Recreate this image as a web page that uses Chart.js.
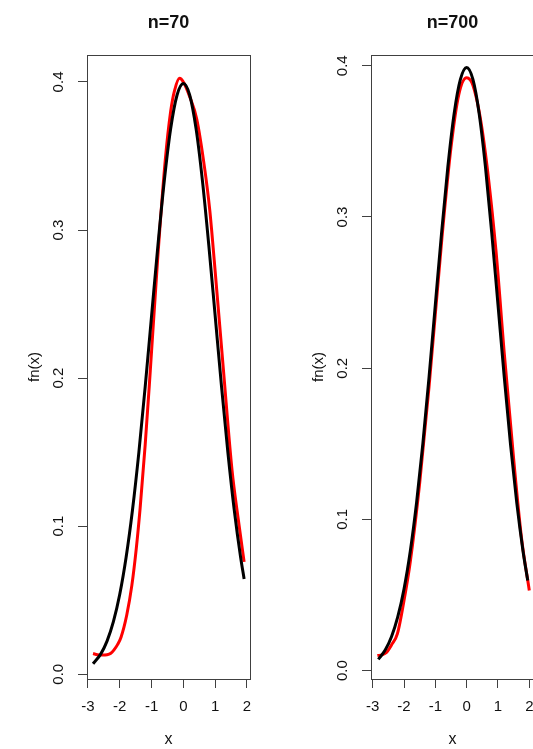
<!DOCTYPE html>
<html>
<head>
<meta charset="utf-8">
<script src="https://cdn.jsdelivr.net/npm/chart.js@4"></script>
<style>
  html, body { margin: 0; padding: 0; background: #fff; overflow: hidden; width: 533px; height: 749px; }
  canvas { position: absolute; top: 0; }
  #left { left: 0; }
  #right { left: 284px; }
</style>
</head>
<body>
<canvas id="left" width="266" height="749"></canvas>
<canvas id="right" width="250" height="749"></canvas>
<script>
// n=70 panel
const blackX70 = [-2.84, -2.6, -2.4, -2.2, -2.0, -1.8, -1.6, -1.4, -1.2, -1.0, -0.8, -0.6, -0.4, -0.2, 0.0, 0.2, 0.4, 0.6, 0.8, 1.0, 1.2, 1.4, 1.6, 1.8, 1.91];
const blackY70 = [0.0071, 0.0136, 0.0224, 0.0355, 0.0540, 0.0790, 0.1109, 0.1497, 0.1942, 0.2420, 0.2897, 0.3332, 0.3683, 0.3910, 0.3989, 0.3910, 0.3683, 0.3332, 0.2897, 0.2420, 0.1942, 0.1497, 0.1109, 0.0790, 0.0644];
const redX70 = [-2.84, -2.7, -2.55, -2.4, -2.28, -2.18, -2.07, -1.96, -1.78, -1.62, -1.48, -1.36, -1.2, -1.04, -0.81, -0.57, -0.4, -0.28, -0.12, 0.0, 0.2, 0.42, 0.66, 0.83, 0.97, 1.26, 1.53, 1.73, 1.91];
const redY70 = [0.014, 0.0132, 0.013, 0.0132, 0.0142, 0.0165, 0.02, 0.025, 0.040, 0.060, 0.085, 0.112, 0.155, 0.205, 0.28, 0.347, 0.38, 0.394, 0.4025, 0.400, 0.390, 0.375, 0.343, 0.3135, 0.2797, 0.2054, 0.1378, 0.104, 0.0759];

// n=700 panel
const blackX700 = [-2.82, -2.6, -2.4, -2.2, -2.0, -1.8, -1.6, -1.4, -1.2, -1.0, -0.8, -0.6, -0.4, -0.2, 0.0, 0.2, 0.4, 0.6, 0.8, 1.0, 1.2, 1.4, 1.6, 1.8, 1.95];
const blackY700 = [0.0075, 0.0136, 0.0224, 0.0355, 0.0540, 0.0790, 0.1109, 0.1497, 0.1942, 0.2420, 0.2897, 0.3332, 0.3683, 0.3910, 0.3989, 0.3910, 0.3683, 0.3332, 0.2897, 0.2420, 0.1942, 0.1497, 0.1109, 0.0790, 0.0596];
const redX700 = [-2.85, -2.7, -2.56, -2.4, -2.21, -2.0, -1.8, -1.5, -1.2, -0.79, -0.5, -0.25, 0.0, 0.2, 0.5, 0.93, 1.2, 1.5, 1.75, 2.0];
const redY700 = [0.010, 0.0105, 0.012, 0.017, 0.0245, 0.0464, 0.072, 0.124, 0.188, 0.286, 0.346, 0.381, 0.392, 0.387, 0.357, 0.279, 0.21, 0.14, 0.088, 0.053];

const xTicks = [-3, -2, -1, 0, 1, 2];
const yTicks = [0, 0.1, 0.2, 0.3, 0.4];

Chart.defaults.font.family = 'Arial, "Liberation Sans", sans-serif';
Chart.defaults.color = '#111';

const pts = (xs, ys) => xs.map((x, i) => ({ x, y: ys[i] }));

// R-style box around the plot region, plus the main title centred over it
const boxPlugin = {
  id: 'box',
  afterDraw(chart, args, opts) {
    const { ctx, chartArea: a } = chart;
    ctx.save();
    ctx.strokeStyle = '#404040';
    ctx.lineWidth = 1;
    ctx.strokeRect(Math.round(a.left) + 0.5, Math.round(a.top) + 0.5, Math.round(a.right - a.left), Math.round(a.bottom - a.top));
    ctx.fillStyle = '#111';
    ctx.font = 'bold 18px Arial, "Liberation Sans", sans-serif';
    ctx.textAlign = 'center';
    ctx.textBaseline = 'middle';
    ctx.fillText(opts.text, (a.left + a.right) / 2, 23);
    ctx.restore();
  }
};

function makePanel(id, title, bx, by, rx, ry, xr, yr, padRight) {
  return new Chart(document.getElementById(id), {
    type: 'scatter',
    data: {
      datasets: [
        { data: pts(bx, by), showLine: true, borderColor: '#000', borderWidth: 3, pointRadius: 0, cubicInterpolationMode: 'monotone' },
        { data: pts(rx, ry), showLine: true, borderColor: '#ff0000', borderWidth: 3, pointRadius: 0, cubicInterpolationMode: 'monotone' },
      ],
    },
    options: {
      responsive: false, animation: false, devicePixelRatio: 1,
      layout: { padding: { left: 0, right: padRight, top: 55, bottom: 0 } },
      plugins: {
        legend: { display: false }, tooltip: { enabled: false }, title: { display: false },
        box: { text: title },
      },
      scales: {
        x: {
          type: 'linear', min: xr[0], max: xr[1],
          afterBuildTicks: s => { s.ticks = xTicks.map(v => ({ value: v })); },
          afterFit: s => { s.height = 70; s.paddingLeft = 0; s.paddingRight = 0; },
          ticks: { font: { size: 15 }, padding: 10, maxRotation: 0, autoSkip: false },
          grid: { drawOnChartArea: false, drawTicks: true, tickLength: 9, tickColor: '#404040' },
          border: { display: false },
          title: { display: true, text: 'x', font: { size: 16 }, padding: { top: 0, bottom: 0 } },
        },
        y: {
          type: 'linear', min: yr[0], max: yr[1],
          afterBuildTicks: s => { s.ticks = yTicks.map(v => ({ value: v })); },
          afterFit: s => { s.width = 87; s.paddingTop = 0; s.paddingBottom = 0; },
          ticks: { font: { size: 15 }, padding: 9, minRotation: 90, maxRotation: 90, crossAlign: 'center', callback: v => v.toFixed(1) },
          grid: { drawOnChartArea: false, drawTicks: true, tickLength: 9, tickColor: '#404040' },
          border: { display: false },
          title: { display: true, text: 'fn(x)', font: { size: 15 }, padding: { top: 26, bottom: 0 } },
        },
      },
    },
    plugins: [boxPlugin],
  });
}

makePanel('left', 'n=70', blackX70, blackY70, redX70, redY70, [-3.03, 2.095], [-0.0032, 0.4182], 16);
makePanel('right', 'n=700', blackX700, blackY700, redX700, redY700, [-3.054, 2.15], [-0.0055, 0.4071], 0);
</script>
</body>
</html>
